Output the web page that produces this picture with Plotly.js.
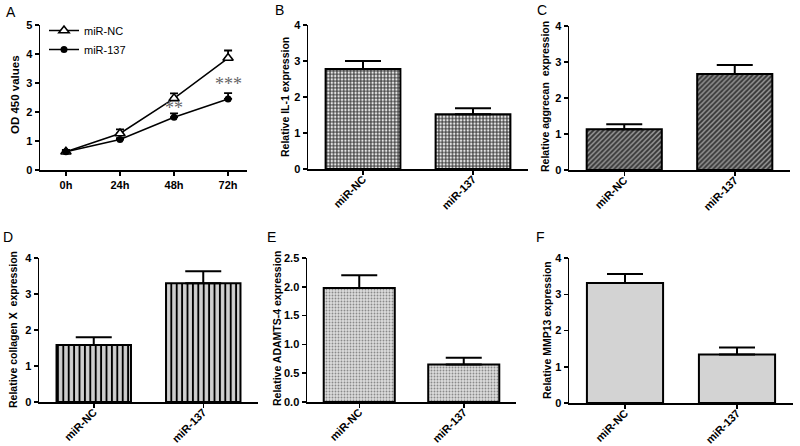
<!DOCTYPE html>
<html>
<head>
<meta charset="utf-8">
<script src="https://cdn.plot.ly/plotly-3.0.1.min.js"></script>
<style>html,body{margin:0;padding:0;background:#fff;}#chart{width:800px;height:446px;}</style>
</head>
<body>
<div id="chart"></div>
<script>
// ---- data ----
const timePoints = ['0h', '24h', '48h', '72h'];
const odNC = [0.63, 1.26, 2.47, 3.86];
const odNCErr = [0.06, 0.14, 0.17, 0.26];
const od137 = [0.63, 1.05, 1.82, 2.45];
const od137Err = [0.04, 0.05, 0.13, 0.20];

const groups = ['miR-NC', 'miR-137'];
const il1 = [2.78, 1.52];
const il1Err = [0.22, 0.17];
const aggrecan = [1.13, 2.67];
const aggrecanErr = [0.14, 0.25];
const collagenX = [1.58, 3.30];
const collagenXErr = [0.22, 0.33];
const adamts4 = [1.98, 0.65];
const adamts4Err = [0.22, 0.12];
const mmp13 = [3.31, 1.34];
const mmp13Err = [0.25, 0.19];

const panelLabels = ['A', 'B', 'C', 'D', 'E', 'F'];
const yTitles = ['OD 450 values', 'Relative IL-1 expression', 'Relative aggrecan  expression',
  'Relative collagen X  expression', 'Relative ADAMTS-4 expression', 'Relative MMP13 expression'];
const sigLabels = ['**', '***'];
const sigAt = ['48h', '72h'];
const sigY = [2.15, 2.97];

// ---- helpers ----
const W = 800, H = 446;
const FONT = 'Arial, "Liberation Sans", sans-serif';
const px = x => x / W;
const py = y => 1 - y / H;

function errUp(arr, w, t) {
  return {type: 'data', symmetric: false, array: arr, arrayminus: arr.map(() => 0),
    color: '#000', thickness: t, width: w, visible: true};
}

const traces = [];
traces.push({
  x: timePoints, y: odNC, name: 'miR-NC', type: 'scatter', mode: 'lines+markers',
  xaxis: 'x', yaxis: 'y',
  line: {color: '#000', width: 1.5},
  marker: {symbol: 'triangle-up', size: 9, color: '#fff', line: {width: 1.6, color: '#000'}},
  error_y: errUp(odNCErr, 4, 1.8)
});
traces.push({
  x: timePoints, y: od137, name: 'miR-137', type: 'scatter', mode: 'lines+markers',
  xaxis: 'x', yaxis: 'y',
  line: {color: '#000', width: 1.5},
  marker: {symbol: 'circle', size: 7, color: '#000'},
  error_y: errUp(od137Err, 4, 1.8)
});

function barTrace(vals, errs, ax, fill) {
  return {
    x: groups, y: vals, type: 'bar', width: 0.68, showlegend: false,
    xaxis: 'x' + ax, yaxis: 'y' + ax,
    error_y: errUp(errs, 18, 2),
    marker: Object.assign({line: {color: '#000', width: 2}}, fill)
  };
}
traces.push(barTrace(il1, il1Err, 2, {color: '#ffffff', pattern: {shape: '+', fgcolor: '#2a2a2a', bgcolor: '#e6e6e6', size: 3.4, solidity: 0.5}}));
traces.push(barTrace(aggrecan, aggrecanErr, 3, {color: '#666', pattern: {shape: '/', fgcolor: '#333', bgcolor: '#9a9a9a', size: 3.5, solidity: 0.55}}));
traces.push(barTrace(collagenX, collagenXErr, 4, {color: '#ccc', pattern: {shape: '|', fgcolor: '#000', bgcolor: '#cfcfcf', size: 5.4, solidity: 0.35}}));
traces.push(barTrace(adamts4, adamts4Err, 5, {color: '#ddd', pattern: {shape: '.', fgcolor: '#8a8a8a', bgcolor: '#dcdcdc', size: 3, solidity: 0.3}}));
traces.push(barTrace(mmp13, mmp13Err, 6, {color: '#d3d3d3'}));

// panel geometry in px: [xLeft, xRight, yTop, yBottom]
const boxes = [
  [40, 247, 25, 170],
  [308, 528, 25, 169],
  [569, 790, 26, 170],
  [39, 258, 258, 402],
  [307, 516, 258, 402],
  [569, 793, 258, 403]
];
const yRanges = [[0, 5], [0, 4], [0, 4], [0, 4], [0, 2.5], [0, 4]];
const yDticks = [1, 1, 1, 1, 0.5, 1];

const tickFont = {family: FONT, size: 11, color: '#000', weight: 'bold'};
const layout = {
  width: W, height: H,
  margin: {l: 0, r: 0, t: 0, b: 0},
  paper_bgcolor: '#fff', plot_bgcolor: 'rgba(0,0,0,0)',
  font: {family: FONT, color: '#000'},
  bargap: 0,
  showlegend: true,
  legend: {
    x: px(44), y: py(16), xanchor: 'left', yanchor: 'top',
    bgcolor: 'rgba(0,0,0,0)', font: {family: FONT, size: 11, color: '#000'},
    itemwidth: 30, tracegroupgap: 0
  },
  annotations: []
};

boxes.forEach((b, i) => {
  const n = i === 0 ? '' : String(i + 1);
  layout['xaxis' + n] = {
    domain: [px(b[0]), px(b[1])],
    anchor: 'y' + n,
    type: 'category',
    range: i === 0 ? [-0.48, 3.35] : [-0.5, 1.5],
    showline: true, linecolor: '#000', linewidth: 1.5,
    ticks: 'outside', ticklen: 4, tickwidth: 1.5, tickcolor: '#000',
    tickangle: i === 0 ? 0 : -45,
    ticklabelstandoff: i === 0 ? 0 : -6,
    tickfont: tickFont,
    showgrid: false, zeroline: false, fixedrange: true
  };
  layout['yaxis' + n] = {
    domain: [py(b[3]), py(b[2])],
    anchor: 'x' + n,
    range: yRanges[i], dtick: yDticks[i],
    tickformat: i === 4 ? '.1f' : 'd',
    showline: true, linecolor: '#000', linewidth: 1.5,
    ticks: 'outside', ticklen: 4, tickwidth: 1.5, tickcolor: '#000',
    tickfont: tickFont,
    showgrid: false, zeroline: false, fixedrange: true
  };
});

// panel letters
const letterPos = [[11, 12], [279, 10], [542, 10], [8, 237], [271, 237], [540, 237]];
panelLabels.forEach((t, i) => {
  layout.annotations.push({
    text: t, xref: 'paper', yref: 'paper', x: px(letterPos[i][0]), y: py(letterPos[i][1]),
    xanchor: 'center', yanchor: 'middle', showarrow: false,
    font: {family: FONT, size: 14, color: '#000'}
  });
});

// y axis titles
const titlePos = [[15, 95, 11.5], [285, 97, 10.5], [545, 97, 10.5], [13, 330, 10.5], [277, 329, 10.5], [547, 330, 10.5]];
yTitles.forEach((t, i) => {
  layout.annotations.push({
    text: t, xref: 'paper', yref: 'paper', x: px(titlePos[i][0]), y: py(titlePos[i][1]),
    xanchor: 'center', yanchor: 'middle', textangle: -90, showarrow: false,
    font: {family: FONT, size: titlePos[i][2], color: '#000', weight: 'bold'}
  });
});

// significance stars
sigLabels.forEach((t, i) => {
  layout.annotations.push({
    text: t, xref: 'x', yref: 'y', x: sigAt[i], y: sigY[i], showarrow: false,
    xanchor: 'center', yanchor: 'middle',
    font: {family: '"Liberation Serif", serif', size: 18, color: '#666'}
  });
});

Plotly.newPlot('chart', traces, layout, {displayModeBar: false, staticPlot: true});
</script>
</body>
</html>
